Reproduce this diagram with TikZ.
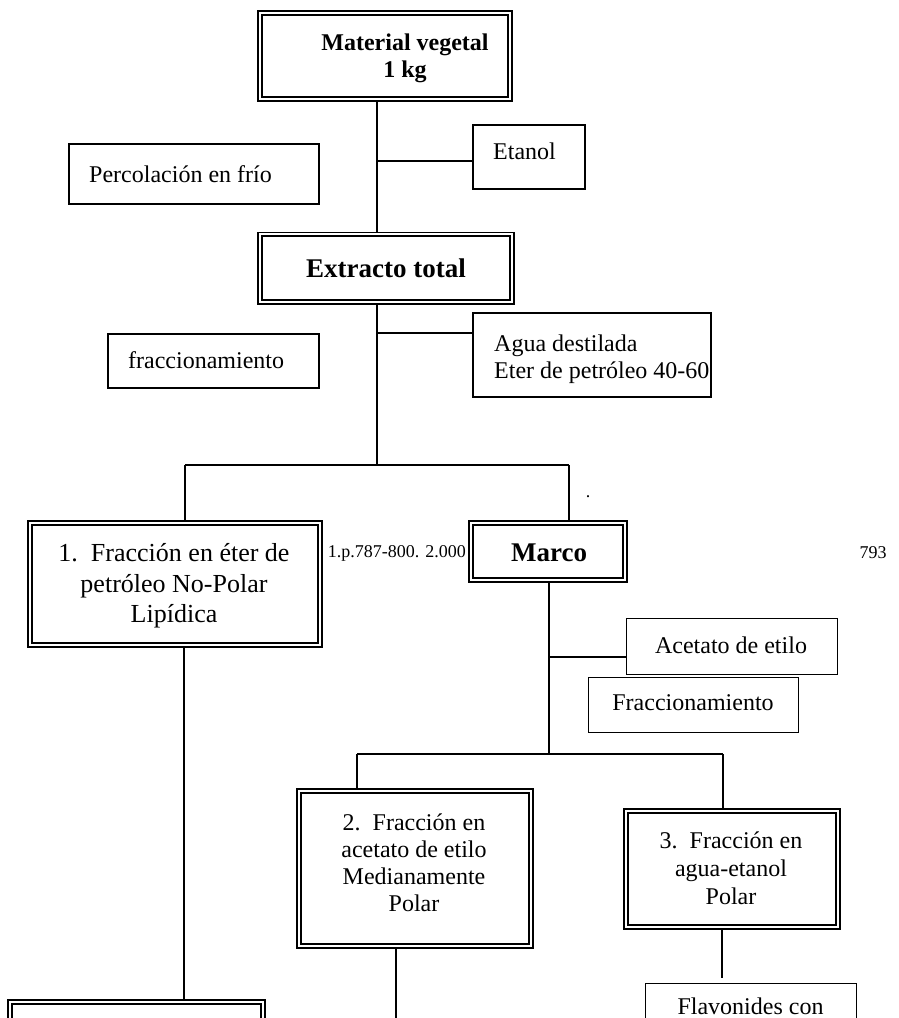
\documentclass[tikz,border=0pt]{standalone}
\usepackage{fontspec}
\setmainfont{Liberation Serif}
\usetikzlibrary{backgrounds}
\begin{document}
\begin{tikzpicture}[x=1pt,y=-1pt,
  dbox/.style={draw, line width=1.8pt, double=white, double distance=2pt, inner sep=0pt},
  sbox/.style={draw, line width=1.7pt, inner sep=0pt},
  conn/.style={line width=1.7pt},
  txt/.style={inner sep=0pt, align=center, font=\fontsize{24}{27.5}\selectfont},
  ltxt/.style={inner sep=0pt, align=left, anchor=west, font=\fontsize{24}{27}\selectfont},
  btxt/.style={inner sep=0pt, align=center, font=\fontsize{24}{27}\selectfont\bfseries},
  bbtxt/.style={inner sep=0pt, align=center, font=\fontsize{27}{30}\selectfont\bfseries},
  stxt/.style={inner sep=0pt, font=\fontsize{18}{20}\selectfont}]
\useasboundingbox (0,0) rectangle (899,1018);
\clip (0,0) rectangle (899,1018);

% boxes
\node[dbox, minimum width=250.4, minimum height=86.4] (mv) at (385,56) {};
\node[btxt] (mvt) at (405,58.5) {Material vegetal\\1 kg};

\node[sbox, minimum width=250, minimum height=60] (perc) at (194,174) {};
\node[ltxt] (perct) at (89,174) {Percolación en frío};

\node[sbox, minimum width=112, minimum height=64] (eta) at (529,157) {};
\node[ltxt] (etat) at (493,151) {Etanol};

\node[dbox, minimum width=252.4, minimum height=67.4] (ext) at (386,268) {};
\node[bbtxt] (extt) at (386,268.5) {Extracto total};

\node[sbox, minimum width=211, minimum height=54] (fr1) at (213.5,361) {};
\node[ltxt] (fr1t) at (128,360) {fraccionamiento};

\node[sbox, minimum width=238, minimum height=84] (agua) at (592,355) {};
\node[ltxt] (aguat) at (494,359) {Agua destilada\\Eter de petróleo 40-60};

\node[dbox, minimum width=290.4, minimum height=122.4] (b1) at (175,584) {};
\node[txt, font=\fontsize{26}{30.5}\selectfont] (b1t) at (174,586) {1.\hspace{0.5em}Fracción en éter de\\petróleo No-Polar\\Lipídica};

\node[dbox, minimum width=154.4, minimum height=57.4] (marco) at (548,551.5) {};
\node[bbtxt] (marcot) at (549,553) {Marco};

\node[stxt, anchor=east] (refs) at (466,553) {1.p.787-800. 2.000};
\node[stxt] (pag) at (873,553) {793};
\node[stxt] (dot) at (588,497) {.};

\node[sbox, minimum width=211, minimum height=56] (acet) at (732,646.5) {};
\node[txt] (acett) at (731,645) {Acetato de etilo};

\node[sbox, minimum width=210, minimum height=55] (fr2) at (693.5,705) {};
\node[txt] (fr2t) at (693,703) {Fraccionamiento};

\node[dbox, minimum width=232.4, minimum height=155.4] (b2) at (415,868.5) {};
\node[txt, font=\fontsize{24}{27}\selectfont] (b2t) at (414,863) {2.\hspace{0.5em}Fracción en\\acetato de etilo\\Medianamente\\Polar};

\node[dbox, minimum width=212.4, minimum height=116.4] (b3) at (732,869) {};
\node[txt, font=\fontsize{24}{28}\selectfont] (b3t) at (731,868) {3.\hspace{0.5em}Fracción en\\agua-etanol\\Polar};

\node[dbox, minimum width=253.4, minimum height=95.4] (b4) at (136.5,1049.5) {};

\node[sbox, minimum width=211, minimum height=96] (flav) at (751,1031.5) {};
\node[txt] (flavt) at (750.5,1006) {Flavonides con};

% junction coordinates
\coordinate (tr) at (377,0);
\coordinate (et) at (377,161);
\coordinate (ag) at (377,333);
\coordinate (j1) at (377,465);
\coordinate (l1) at (185,465);
\coordinate (r1) at (569,465);
\coordinate (x1) at (184,0);
\coordinate (ac) at (549,657);
\coordinate (m2) at (549,754);
\coordinate (l2) at (357,754);
\coordinate (r2) at (723,754);
\coordinate (e2) at (396,1018);
\coordinate (e3) at (722,978);

\begin{scope}[on background layer]
\fill[white] (0,0) rectangle (899,1018);
\draw[conn] (mv.south -| tr) -- (ext.north -| tr);
\draw[conn] (et) -- (et -| eta.west);
\draw[conn] (ext.south -| tr) -- (j1);
\draw[conn] (ag) -- (ag -| agua.west);
\draw[conn] (l1) -- (r1);
\draw[conn] (l1) -- (b1.north -| l1);
\draw[conn] (r1) -- (marco.north -| r1);
\draw[conn] (b1.south -| x1) -- (b4.north -| x1);
\draw[conn] (marco.south -| m2) -- (m2);
\draw[conn] (ac) -- (ac -| acet.west);
\draw[conn] (l2) -- (r2);
\draw[conn] (l2) -- (b2.north -| l2);
\draw[conn] (r2) -- (b3.north -| r2);
\draw[conn] (b2.south -| e2) -- (e2);
\draw[conn] (b3.south -| e3) -- (e3);
\end{scope}
\end{tikzpicture}
\end{document}
